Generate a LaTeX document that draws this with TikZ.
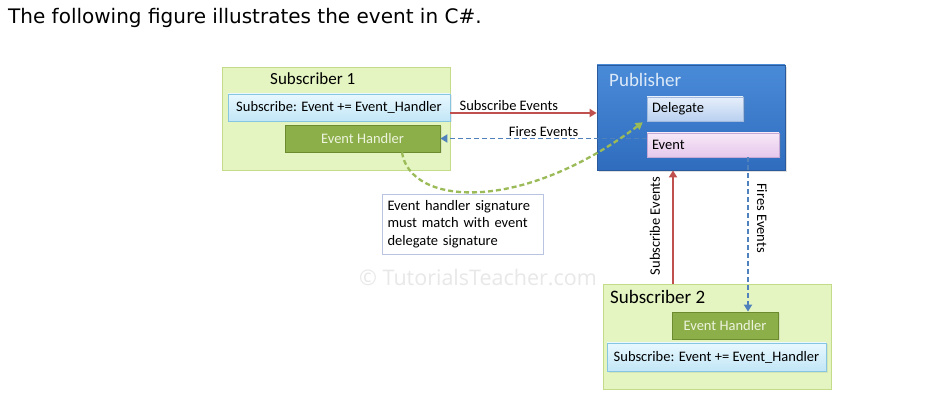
\documentclass[tikz,border=0pt]{standalone}
\usepackage{fontspec}
\setmainfont{Carlito}
\newfontfamily\verd{DejaVu Sans}
\newfontfamily\wmfont{Open Sans}
\usetikzlibrary{arrows.meta,shadows}
\definecolor{subfill}{HTML}{E4F5C2}
\definecolor{subdraw}{HTML}{C4DC8A}
\definecolor{cyantop}{HTML}{E8F8FF}
\definecolor{cyanbot}{HTML}{C2E6F6}
\definecolor{cyandraw}{HTML}{86C6E0}
\definecolor{ehfill}{HTML}{8DAF4A}
\definecolor{ehdraw}{HTML}{6B8B2E}
\definecolor{ehtext}{HTML}{EDF4DE}
\definecolor{pubtop}{HTML}{4A8BD8}
\definecolor{pubbot}{HTML}{2F6CBE}
\definecolor{pubdraw}{HTML}{2A5A9C}
\definecolor{pubtext}{HTML}{DCEAF8}
\definecolor{deltop}{HTML}{E6EFFB}
\definecolor{delbot}{HTML}{B9D0F0}
\definecolor{deldraw}{HTML}{A2BADD}
\definecolor{evtop}{HTML}{F7E8F7}
\definecolor{evbot}{HTML}{E6C8EC}
\definecolor{evdraw}{HTML}{C6A8D6}
\definecolor{redarr}{HTML}{C0504D}
\definecolor{bluearr}{HTML}{4F81BD}
\definecolor{greenarr}{HTML}{9BBB59}
\definecolor{notedraw}{HTML}{B8C4E2}
\definecolor{wmcol}{HTML}{E8E8E8}
\begin{document}
\begin{tikzpicture}[x=1pt,y=-1pt,
  txt/.style={font=\fontsize{14.5}{17}\selectfont},
  subbox/.style={draw=subdraw,fill=subfill,line width=0.8pt},
  subscr/.style={draw=cyandraw,top color=cyantop,bottom color=cyanbot,line width=0.8pt,txt,
    drop shadow={opacity=0.15,shadow xshift=1.5pt,shadow yshift=-1.5pt}},
  handler/.style={draw=ehdraw,fill=ehfill,text=ehtext,line width=0.8pt,txt,
    drop shadow={opacity=0.15,shadow xshift=1.5pt,shadow yshift=-1.5pt}},
  pubbox/.style={draw=pubdraw,top color=pubtop,bottom color=pubbot,line width=0.8pt,
    drop shadow={opacity=0.25,shadow xshift=2pt,shadow yshift=-2pt}},
  delbox/.style={draw=deldraw,top color=deltop,bottom color=delbot,line width=0.6pt,txt,
    drop shadow={opacity=0.2,shadow xshift=1.5pt,shadow yshift=-1.5pt}},
  evbox/.style={draw=evdraw,top color=evtop,bottom color=evbot,line width=0.6pt,txt,
    drop shadow={opacity=0.2,shadow xshift=1.5pt,shadow yshift=-1.5pt}},
  redline/.style={draw=redarr,line width=1.8pt,-{Triangle[length=7pt,width=8pt]}},
  blueline/.style={draw=bluearr,line width=1.8pt,dash pattern=on 5pt off 3pt,-{Triangle[length=7pt,width=8pt]}},
  greenline/.style={draw=greenarr,line width=2.3pt,dash pattern=on 5pt off 3pt,-{Triangle[length=7pt,width=8pt]}}
]
\useasboundingbox[fill=white] (0,0) rectangle (946,406);
\node[anchor=base west,inner sep=0pt,font=\verd\fontsize{20}{24}\selectfont] (title) at (8,23.5) {The following figure illustrates the event in C\#.};

% Subscriber 1
\node[subbox,minimum width=228pt,minimum height=103pt] (s1) at (336,118.5) {};
\node[anchor=west,inner sep=0pt,font=\fontsize{17}{20}\selectfont] (s1t) at (270,79) {Subscriber 1};
\node[subscr,minimum width=222pt,minimum height=27pt,inner sep=0pt] (sub1) at (339,107.5) {Subscribe: Event += Event\_Handler};
\node[handler,minimum width=155pt,minimum height=27pt,inner sep=0pt] (eh1) at (362.5,138.5) {Event Handler};

% Publisher
\node[pubbox,minimum width=188pt,minimum height=105pt] (pub) at (691,117.5) {};
\node[anchor=west,inner sep=0pt,text=pubtext,font=\fontsize{19}{22}\selectfont] (pubt) at (609,80) {Publisher};
\node[delbox,minimum width=96pt,minimum height=24pt,inner sep=0pt,text width=86pt,align=left] (del) at (695,109) {Delegate};
\node[evbox,minimum width=132pt,minimum height=24pt,inner sep=0pt,text width=122pt,align=left] (evt) at (713,145) {Event};

% Note
\node[draw=notedraw,fill=white,line width=0.6pt,minimum width=161pt,minimum height=60pt,inner sep=0pt,
  text width=150pt,align=left,font=\fontsize{14.5}{17.5}\selectfont] (note) at (462.5,224)
  {Event handler signature\\must match with event\\delegate signature};

% Watermark
\node[inner sep=0pt,text=wmcol,font=\wmfont\fontsize{21.5}{24}\selectfont] (wm) at (478,277) {\textcopyright{} TutorialsTeacher.com};

% Subscriber 2
\node[subbox,minimum width=228pt,minimum height=105pt] (s2) at (717,336.5) {};
\node[anchor=west,inner sep=0pt,font=\fontsize{19}{22}\selectfont] (s2t) at (610,297) {Subscriber 2};
\node[handler,minimum width=106pt,minimum height=27pt,inner sep=0pt] (eh2) at (725,325.5) {Event Handler};
\node[subscr,minimum width=219pt,minimum height=28pt,inner sep=0pt] (sub2) at (716.5,357) {Subscribe: Event += Event\_Handler};

% connectors
\coordinate (ry) at (0,113);
\coordinate (rx) at (673,0);
\coordinate (bx) at (748,0);
\coordinate (gs) at (402,0);
\draw[redline] (sub1.east |- ry) -- node[pos=0.4,above=1pt,inner sep=0pt,txt] (lbl1) {Subscribe Events} (pub.west |- ry);
\draw[blueline] (eh1.east -| evt.west) -- node[pos=0.5,above=1pt,inner sep=0pt,txt] (lbl2) {Fires Events} (eh1.east);
\draw[greenline] (eh1.south -| gs) .. controls +(8,53) and +(-123,92) .. ([xshift=-4pt,yshift=-1pt]del.south west);
\draw[redline] (s2.north -| rx) -- (pub.south -| rx);
\node[rotate=90,inner sep=0pt,txt] (lbl3) at (655,226) {Subscribe Events};
\draw[blueline] (evt.south -| bx) -- (eh2.north -| bx);
\node[rotate=-90,inner sep=0pt,txt] (lbl4) at (762,218) {Fires Events};
\end{tikzpicture}
\end{document}
